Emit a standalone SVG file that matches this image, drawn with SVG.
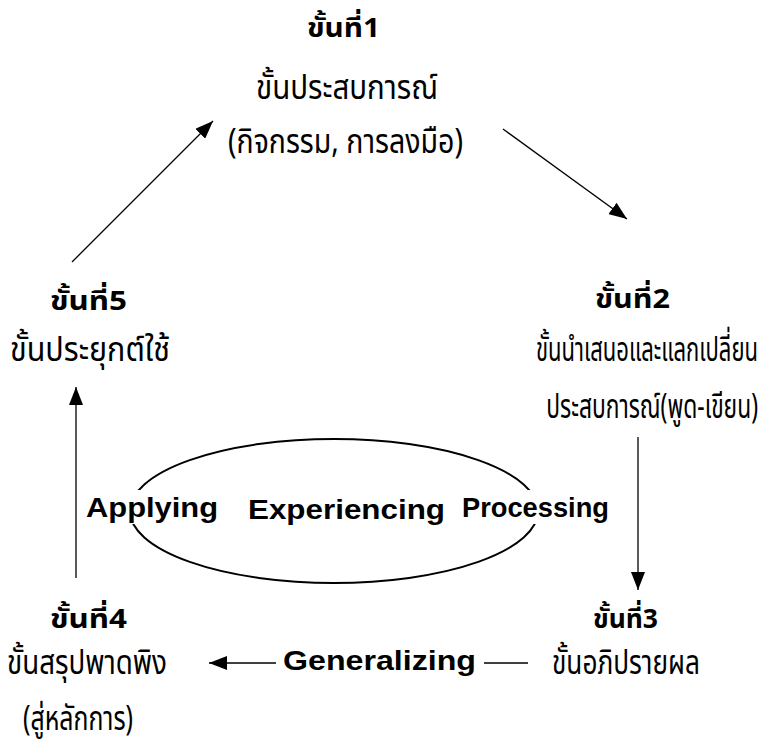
<svg xmlns="http://www.w3.org/2000/svg" width="764" height="745" viewBox="0 0 764 745">
  <defs>
    <style>
      .title { font-family: "Noto Sans Thai", "Noto Sans", "DejaVu Sans", sans-serif; font-weight: bold; font-size: 27px; fill: #000; }
      .body { font-family: "Noto Sans Thai", "Noto Sans", "DejaVu Sans", sans-serif; font-size: 34px; fill: #000; }
      .right { text-anchor: end; }
      .en { font-family: "Liberation Sans", Arial, sans-serif; font-weight: bold; font-size: 28px; fill: #000; }
      .edge { stroke: #000; stroke-width: 1.3; fill: none; }
    </style>
    <marker id="head" viewBox="0 0 18 14" refX="18" refY="7" markerWidth="18" markerHeight="14" markerUnits="userSpaceOnUse" orient="auto">
      <path d="M0,0 L18,7 L0,14 Z" fill="#000"/>
    </marker>
  </defs>
  <rect width="764" height="745" fill="#fff"/>

  <!-- connectors -->
  <g id="connectors">
    <line class="edge" x1="72" y1="262" x2="213" y2="121" marker-end="url(#head)"/>
    <line class="edge" x1="503" y1="129" x2="627" y2="219" marker-end="url(#head)"/>
    <line class="edge" x1="638" y1="437" x2="638" y2="590" marker-end="url(#head)"/>
    <line class="edge" x1="76" y1="578" x2="76" y2="387" marker-end="url(#head)"/>
    <line class="edge" x1="276" y1="663" x2="209" y2="663" marker-end="url(#head)"/>
    <line class="edge" x1="484" y1="663" x2="528" y2="663"/>
  </g>

  <!-- central cycle -->
  <g id="cycle">
    <ellipse cx="334" cy="511" rx="204" ry="72" fill="none" stroke="#000" stroke-width="2"/>
    <rect x="84" y="490" width="137" height="34" fill="#fff"/>
    <rect x="459" y="490" width="153" height="34" fill="#fff"/>
    <text class="en" x="86" y="517" textLength="132" lengthAdjust="spacingAndGlyphs">Applying</text>
    <text class="en" x="248" y="519" textLength="197" lengthAdjust="spacingAndGlyphs">Experiencing</text>
    <text class="en" x="462" y="517" textLength="147" lengthAdjust="spacingAndGlyphs">Processing</text>
  </g>

  <g id="step1">
    <text class="title" x="307" y="37" textLength="73" lengthAdjust="spacingAndGlyphs">ขั้นที่1</text>
    <text class="body" x="256" y="99" textLength="182" lengthAdjust="spacingAndGlyphs">ขั้นประสบการณ์</text>
    <text class="body" x="228" y="153" textLength="235" lengthAdjust="spacingAndGlyphs">(กิจกรรม, การลงมือ)</text>
  </g>

  <g id="step2">
    <text class="title" x="595" y="308" textLength="75" lengthAdjust="spacingAndGlyphs">ขั้นที่2</text>
    <!-- long lines are narrowed horizontally so they stay inside the right margin -->
    <text class="body right" transform="translate(758,361) scale(0.64,1)" textLength="347" lengthAdjust="spacingAndGlyphs">ขั้นนำเสนอและแลกเปลี่ยน</text>
    <text class="body right" transform="translate(758,418) scale(0.67,1)" textLength="316" lengthAdjust="spacingAndGlyphs">ประสบการณ์(พูด-เขียน)</text>
  </g>

  <g id="step3">
    <text class="title" x="593" y="628" textLength="65" lengthAdjust="spacingAndGlyphs">ขั้นที่3</text>
    <text class="body" x="552" y="674" textLength="148" lengthAdjust="spacingAndGlyphs">ขั้นอภิปรายผล</text>
  </g>

  <g id="step4">
    <text class="title" x="50" y="628" textLength="77" lengthAdjust="spacingAndGlyphs">ขั้นที่4</text>
    <text class="body" x="7" y="674" textLength="160" lengthAdjust="spacingAndGlyphs">ขั้นสรุปพาดพิง</text>
    <text class="body" x="23" y="730" textLength="110" lengthAdjust="spacingAndGlyphs">(สู่หลักการ)</text>
  </g>

  <g id="step5">
    <text class="title" x="50" y="310" textLength="77" lengthAdjust="spacingAndGlyphs">ขั้นที่5</text>
    <text class="body" x="10" y="361" textLength="160" lengthAdjust="spacingAndGlyphs">ขั้นประยุกต์ใช้</text>
  </g>

  <g id="generalizing">
    <text class="en" x="283" y="670" textLength="193" lengthAdjust="spacingAndGlyphs">Generalizing</text>
  </g>
</svg>
